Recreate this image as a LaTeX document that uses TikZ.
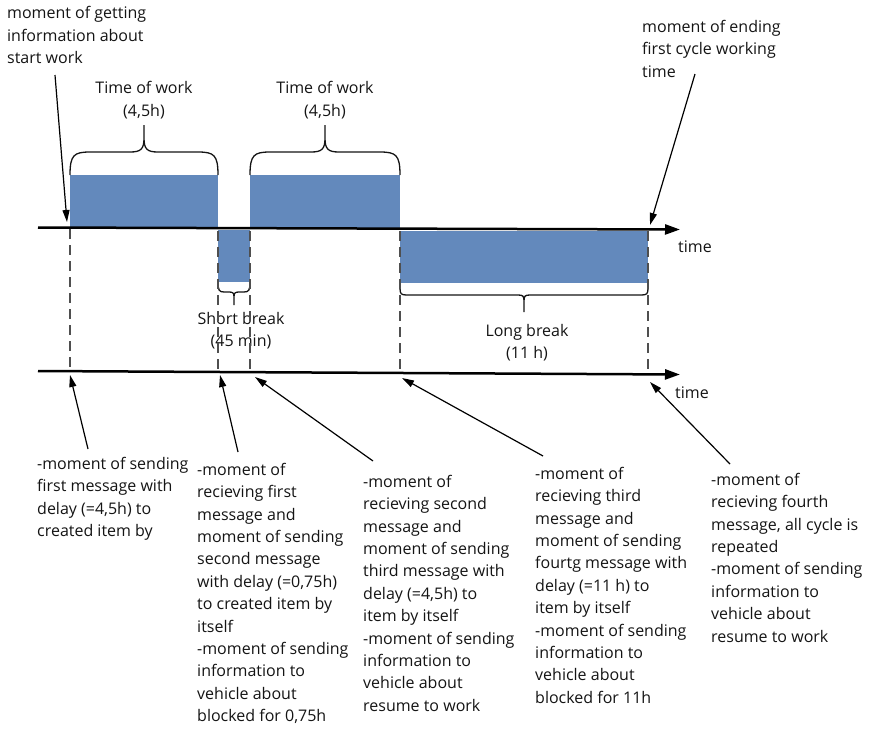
\documentclass[tikz,border=0pt]{standalone}
\usepackage{fontspec}
\setmainfont{Open Sans}
\usetikzlibrary{arrows.meta}
\definecolor{blk}{HTML}{6389BC}
\definecolor{txt}{HTML}{141414}
\definecolor{dgray}{HTML}{4F4F4F}
\newcommand\lblfont{\fontsize{16}{22.4}\selectfont}
\tikzset{
  blockfill/.style={fill=blk},
  axisline/.style={draw=black, line width=2.5pt, -{Triangle[length=15pt,width=10pt]}},
  dashline/.style={draw=dgray, line width=2.4pt, dash pattern=on 10pt off 6pt},
  callout/.style={draw=black, line width=1.2pt, -{Triangle[length=12pt,width=7pt]}},
  bracepath/.style={draw=txt, line width=1.3pt},
  para/.style={font=\lblfont, text=txt, inner sep=0pt, align=left, anchor=north west},
  lbl/.style={font=\lblfont, text=txt, inner sep=0pt, anchor=base}
}
\begin{document}
\begin{tikzpicture}[x=1pt,y=-1pt]
\useasboundingbox (0,0) rectangle (870,729);
% blocks
\fill[blockfill] (70,175) rectangle (218,227.6);
\fill[blockfill] (250,175) rectangle (400,228.2);
\fill[blockfill] (218,230) rectangle (250,282);
\fill[blockfill] (400,230.5) rectangle (648,283);
% axes
\coordinate (ta0) at (38,227.5);
\coordinate (ta1) at (680,229.5);
\coordinate (ba0) at (38,371);
\coordinate (ba1) at (680,374.5);
\draw[axisline] (ta0) -- (ta1);
\draw[axisline] (ba0) -- (ba1);
\node[lbl, anchor=base west] (time1) at (678,252) {time};
\node[lbl, anchor=base west] (time2) at (675,398) {time};
% braces
\draw[bracepath] (70,175) .. controls (70,155) and (74,152) .. (90,152) -- (130,152)
  .. controls (141,152) and (144,149) .. (144,138) -- (144,125)
  (144,138) .. controls (144,149) and (147,152) .. (158,152) -- (198,152)
  .. controls (214,152) and (218,155) .. (218,175);
\draw[bracepath] (250,175) .. controls (250,155) and (254,152) .. (270,152) -- (311,152)
  .. controls (322,152) and (325,149) .. (325,138) -- (325,125)
  (325,138) .. controls (325,149) and (328,152) .. (339,152) -- (380,152)
  .. controls (396,152) and (400,155) .. (400,175);
\draw[bracepath] (218,282) .. controls (218,290) and (219,292) .. (224,292) -- (229,292)
  .. controls (233,292) and (234,293) .. (234,297) -- (234,305)
  (234,297) .. controls (234,293) and (235,292) .. (239,292) -- (244,292)
  .. controls (249,292) and (250,290) .. (250,282);
\draw[bracepath] (400,288) .. controls (400,294) and (401,295) .. (407,295) -- (518,295)
  .. controls (523,295) and (524,296) .. (524,301) -- (524,312)
  (524,301) .. controls (524,296) and (525,295) .. (530,295) -- (641,295)
  .. controls (647,295) and (648,294) .. (648,288);
% brace labels
\node[lbl] (tw1a) at (144,93) {Time of work};
\node[lbl] (tw1b) at (144,116) {(4,5h)};
\node[lbl] (tw2a) at (325,93) {Time of work};
\node[lbl] (tw2b) at (325,116) {(4,5h)};
\node[lbl] (sba) at (241,324) {Short break};
\node[lbl] (sbb) at (241,346) {(45 min)};
\node[lbl] (lba) at (527,336) {Long break};
\node[lbl] (lbb) at (527,358) {(11 h)};
% dashed verticals
\draw[dashline] (70,229) -- (70,371);
\draw[dashline] (218,231) -- (218,372);
\draw[dashline] (250,231) -- (250,372);
\draw[dashline] (400,231) -- (400,372.5);
\draw[dashline] (648,231) -- (648,374);
% top texts
\node[para] (topl) at (7,6.3) {moment of getting\\information about\\start work};
\node[para] (topr) at (642,19.8) {moment of ending\\first cycle working\\time};
\coordinate (tls) at (55,75);
\coordinate (tlt) at (67,222);
\coordinate (trs) at (695,74);
\coordinate (trt) at (650,225);
\draw[callout] (tls) -- (tlt);
\draw[callout] (trs) -- (trt);
% bottom texts
\node[para] (m1) at (37,456.8) {-moment of sending\\first message with\\delay (=4,5h) to\\created item by};
\node[para] (m2) at (197,462.8) {-moment of\\recieving first\\message and\\moment of sending\\second message\\with delay (=0,75h)\\to created item by\\itself\\-moment of sending\\information to\\vehicle about\\blocked for 0,75h};
\node[para] (m3) at (363,474.8) {-moment of\\recieving second\\message and\\moment of sending\\third message with\\delay (=4,5h) to\\item by itself\\-moment of sending\\information to\\vehicle about\\resume to work};
\node[para] (m4) at (535,466.8) {-moment of\\recieving third\\message and\\moment of sending\\fourtg message with\\delay (=11 h) to\\item by itself\\-moment of sending\\information to\\vehicle about\\blocked for 11h};
\node[para] (m5) at (711,472.8) {-moment of\\recieving fourth\\message, all cycle is\\repeated\\-moment of sending\\information to\\vehicle about\\resume to work};
% bottom callouts
\coordinate (s1) at (88,449);  \coordinate (t1) at (70,375);
\coordinate (s2) at (238,452); \coordinate (t2) at (220,375);
\coordinate (s3) at (373,461); \coordinate (t3) at (255,377);
\coordinate (s4) at (543,456); \coordinate (t4) at (402,378);
\coordinate (s5) at (730,464); \coordinate (t5) at (650,382);
\draw[callout] (s1) -- (t1);
\draw[callout] (s2) -- (t2);
\draw[callout] (s3) -- (t3);
\draw[callout] (s4) -- (t4);
\draw[callout] (s5) -- (t5);
\end{tikzpicture}
\end{document}
